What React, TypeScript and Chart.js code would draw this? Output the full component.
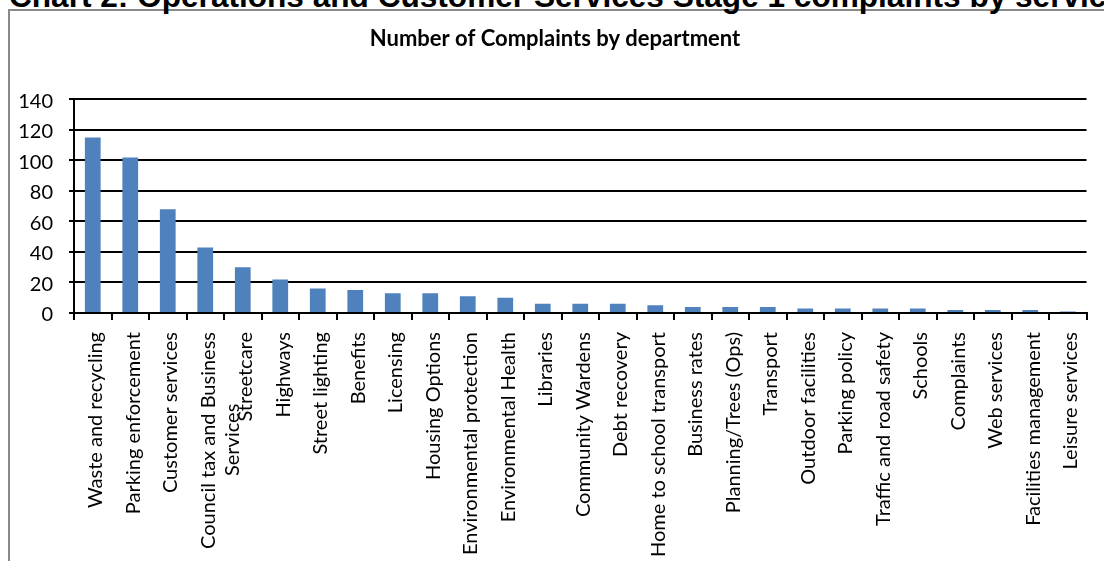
import React, { useEffect, useRef } from "react";
import { Chart, registerables } from "chart.js";

Chart.register(...registerables);

const heading = "Chart 2: Operations and Customer Services Stage 1 complaints by service";
const chartTitle = "Number of Complaints by department";

const categories: (string | string[])[] = [
  "Waste and recycling",
  "Parking enforcement",
  "Customer services",
  ["Council tax and Business", "Services" + " ".repeat(14)],
  "Streetcare",
  "Highways",
  "Street lighting",
  "Benefits",
  "Licensing",
  "Housing Options",
  "Environmental protection",
  "Environmental Health",
  "Libraries",
  "Community Wardens",
  "Debt recovery",
  "Home to school transport",
  "Business rates",
  "Planning/Trees (Ops)",
  "Transport",
  "Outdoor facilities",
  "Parking policy",
  "Traffic and road safety",
  "Schools",
  "Complaints",
  "Web services",
  "Facilities management",
  "Leisure services",
];

const complaints = [
  115, 102, 68, 43, 30, 22, 16, 15, 13, 13, 11, 10, 6, 6, 6, 5, 4, 4, 4, 3, 3, 3, 3, 2, 2, 2, 1,
];

const yMin = 0;
const yMax = 140;
const yStep = 20;

const FONT = "Lato, 'Open Sans', sans-serif";

export default function App() {
  const ref = useRef<HTMLCanvasElement>(null);

  useEffect(() => {
    if (!ref.current) return;
    const chart = new Chart(ref.current, {
      type: "bar",
      data: {
        labels: categories,
        datasets: [
          {
            data: complaints,
            backgroundColor: "#4F81BD",
            borderWidth: 0,
            barPercentage: 0.42,
            categoryPercentage: 1,
          },
        ],
      },
      options: {
        animation: false,
        responsive: false,
        maintainAspectRatio: false,
        layout: { padding: { top: 0, right: 12, bottom: 0, left: 18 } },
        plugins: {
          legend: { display: false },
          tooltip: { enabled: false },
          title: {
            display: true,
            text: chartTitle,
            color: "#000",
            font: { family: FONT, size: 22, weight: "bold" },
            padding: { top: 26, bottom: 47 },
          },
        },
        scales: {
          x: {
            grid: {
              offset: true,
              drawOnChartArea: false,
              drawTicks: true,
              tickLength: 7,
              color: "#000",
              lineWidth: 2,
            },
            border: { color: "#000", width: 2 },
            ticks: {
              autoSkip: false,
              maxRotation: 90,
              minRotation: 90,
              padding: 12,
              labelOffset: 3,
              color: "#000",
              font: { family: FONT, size: 20 },
            },
            afterFit: (s: any) => {
              s.height = 561 - 313;
            },
          },
          y: {
            min: yMin,
            max: yMax,
            ticks: {
              stepSize: yStep,
              padding: 16,
              labelOffset: 2,
              color: "#000",
              font: { family: FONT, size: 20 },
            },
            grid: { color: "#000", lineWidth: 2, tickLength: 5, drawTicks: true },
            border: { color: "#000", width: 2 },
            afterFit: (s: any) => {
              s.width = 56;
            },
          },
        },
      },
    } as any);
    return () => chart.destroy();
  }, []);

  return (
    <div
      style={{
        position: "absolute",
        left: 0,
        top: 0,
        width: 1104,
        height: 561,
        overflow: "hidden",
        background: "#fff",
      }}
    >
      <div
        style={{
          position: "absolute",
          left: 8,
          top: 9,
          width: 1300,
          height: 800,
          border: "2px solid #8a8a8a",
          boxSizing: "border-box",
        }}
      />
      <div
        style={{
          position: "absolute",
          left: 9,
          top: -19,
          whiteSpace: "nowrap",
          fontFamily: "'Liberation Sans', Arial, sans-serif",
          fontWeight: "bold",
          fontSize: 31.6,
          lineHeight: "31px",
          color: "#000",
        }}
      >
        {heading}
      </div>
      <canvas
        ref={ref}
        width={1104}
        height={561}
        style={{ position: "absolute", left: 0, top: 0, width: 1104, height: 561 }}
      />
    </div>
  );
}
